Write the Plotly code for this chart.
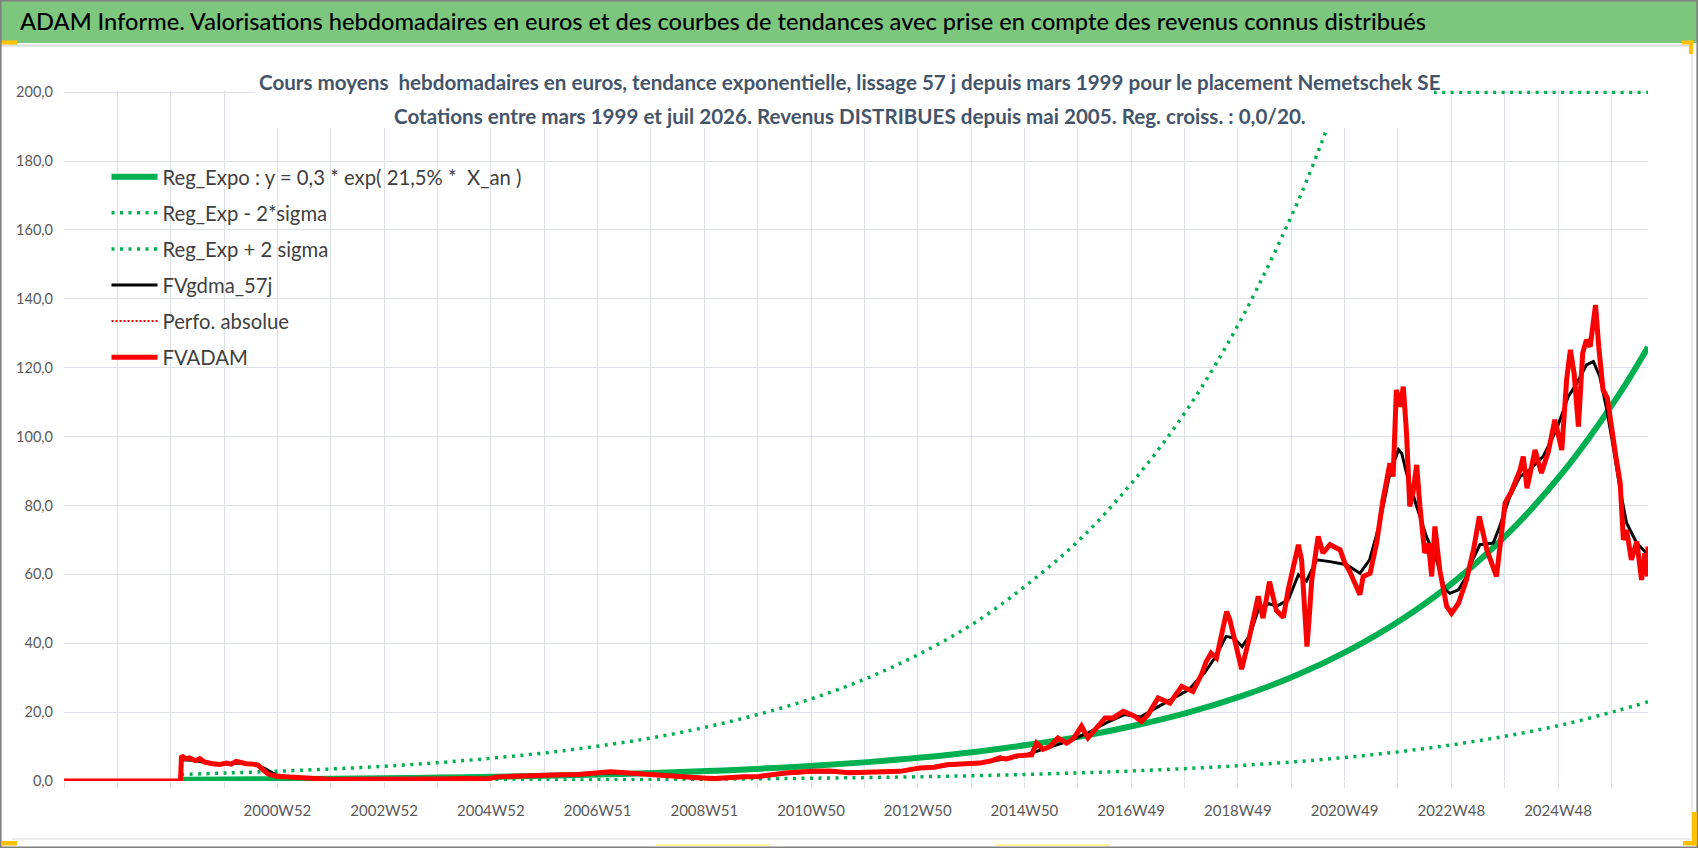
import plotly.graph_objects as go

# values (x = decimal year, y = euros)
reg_t = [1999.18, 2000, 2001, 2002, 2003, 2004, 2005, 2006, 2007, 2008, 2009, 2010,
         2011, 2012, 2013, 2014, 2015, 2016, 2017, 2018, 2019, 2020, 2021, 2022,
         2023, 2024, 2025, 2026, 2026.58]
reg_v = [0.35, 0.42, 0.52, 0.64, 0.79, 0.98, 1.22, 1.51, 1.87, 2.32, 2.88, 3.57,
         4.42, 5.48, 6.8, 8.43, 10.5, 12.95, 16.1, 19.9, 24.7, 30.6, 38.0, 47.1,
         58.4, 72.4, 89.8, 111.3, 126.0]
low_v = [0.06, 0.08, 0.1, 0.12, 0.14, 0.18, 0.22, 0.28, 0.34, 0.42, 0.53, 0.65,
         0.81, 1.0, 1.24, 1.54, 1.92, 2.37, 2.95, 3.64, 4.52, 5.6, 6.95, 8.62,
         10.7, 13.25, 16.4, 20.4, 23.0]

up_t = [1999.18, 2000, 2001, 2002, 2003, 2004, 2005, 2006, 2007, 2008, 2009, 2010,
        2011, 2012, 2013, 2014, 2015, 2016, 2017, 2018, 2019, 2020, 2020.5, 2020.83]
up_v = [1.9, 2.3, 2.85, 3.5, 4.3, 5.35, 6.65, 8.2, 10.2, 12.6, 15.7, 19.5,
        24.1, 29.9, 37.1, 45.9, 57.2, 70.6, 87.7, 108.5, 134.6, 166.8, 186.0, 200.0]
# the +2 sigma curve is held at the top of the scale after it passes 200
cap_t = [2020.83, 2026.58]
cap_v = [200.0, 200.0]

gdma_t = [1996.995, 1999.17, 1999.19, 1999.4, 1999.7, 2000.0, 2000.3, 2000.55, 2000.75,
          2000.95, 2001.2, 2001.6, 2002.0, 2002.5, 2003.0, 2003.5, 2004.0, 2004.5,
          2005.0, 2005.4, 2006.0, 2006.6, 2007.2, 2007.6, 2008.0, 2008.5, 2009.1,
          2009.6, 2010.0, 2010.5, 2011.0, 2011.6, 2012.2, 2012.6, 2013.0, 2013.5,
          2014.1, 2014.5, 2014.9, 2015.2, 2015.5, 2015.8, 2016.1, 2016.5, 2016.8,
          2017.1, 2017.4, 2017.7, 2018.0, 2018.3, 2018.5, 2018.7, 2018.85, 2019.0,
          2019.15, 2019.3, 2019.5, 2019.64, 2019.86, 2020.05, 2020.2, 2020.39, 2020.64,
          2020.95, 2021.2, 2021.38, 2021.57, 2021.76, 2021.92, 2021.98, 2022.07,
          2022.26, 2022.44, 2022.63, 2022.79, 2022.88, 2023.04, 2023.19, 2023.25,
          2023.44, 2023.69, 2023.81, 2024.0, 2024.19, 2024.38, 2024.62, 2024.87,
          2025.09, 2025.25, 2025.43, 2025.56, 2025.68, 2025.81, 2025.93, 2026.06,
          2026.18, 2026.37, 2026.58]
gdma_v = [0, 0, 6.2, 6.0, 5.2, 5.0, 5.2, 4.8, 3.6,
          1.8, 1.2, 0.7, 0.5, 0.5, 0.45, 0.5, 0.55, 0.65,
          0.9, 1.3, 1.6, 1.9, 2.4, 2.3, 1.9, 1.4, 0.9,
          1.1, 1.4, 2.2, 2.7, 2.6, 2.6, 2.8, 3.6, 4.5,
          5.2, 6.3, 7.3, 8.8, 10.3, 11.8, 13.8, 17.2, 19.3,
          18.6, 21.3, 24.0, 26.5, 31.5, 36.0, 42.0, 41.5, 39.0,
          42.5, 49.7, 51.5, 50.7, 52.6, 59.9, 58.0, 64.2, 63.7,
          62.8, 60.3, 64.2, 74.9, 89.4, 96.2, 95.2, 89.4,
          79.7, 71.0, 64.2, 55.5, 54.5, 55.5, 59.4, 62.5,
          68.6, 69.1, 73.9, 82.6, 88.4, 90.5, 94.2, 102.0,
          111.6, 115.5, 120.8, 121.8, 117.4, 107.8, 97.1, 84.5,
          74.9, 69.1, 65.7]

adam_t = [1996.995, 1999.17, 1999.19, 1999.26, 1999.34, 1999.45, 1999.53, 1999.62,
          1999.77, 1999.9, 2000.03, 2000.12, 2000.21, 2000.3, 2000.4, 2000.52, 2000.62,
          2000.71, 2000.81, 2000.96, 2001.21, 2001.52, 2002.0, 2002.5, 2003.0, 2003.5,
          2004.0, 2004.5, 2004.9, 2005.1, 2005.3, 2005.7, 2006.3, 2006.6, 2006.9,
          2007.2, 2007.54, 2007.93, 2008.3, 2008.55, 2008.9, 2009.15, 2009.35, 2009.7,
          2009.97, 2010.3, 2010.47, 2010.98, 2011.3, 2011.66, 2012.0, 2012.3, 2012.61,
          2012.98, 2013.25, 2013.48, 2013.8, 2014.1, 2014.3, 2014.47, 2014.6, 2014.79,
          2015.07, 2015.16, 2015.28, 2015.41, 2015.56, 2015.72, 2015.85, 2016.0,
          2016.12, 2016.3, 2016.44, 2016.59, 2016.78, 2016.99, 2017.12, 2017.24,
          2017.43, 2017.65, 2017.87, 2018.08, 2018.24, 2018.33, 2018.42, 2018.52,
          2018.71, 2018.77, 2018.9, 2018.99, 2019.11, 2019.3, 2019.39, 2019.51,
          2019.64, 2019.77, 2019.86, 2019.95, 2020.05, 2020.11, 2020.17, 2020.21,
          2020.25, 2020.3, 2020.42, 2020.51, 2020.64, 2020.83, 2020.92, 2021.01,
          2021.2, 2021.26, 2021.39, 2021.51, 2021.63, 2021.76, 2021.82, 2021.88,
          2021.95, 2022.01, 2022.07, 2022.13, 2022.19, 2022.26, 2022.32, 2022.41,
          2022.48, 2022.54, 2022.6, 2022.69, 2022.82, 2022.91, 2023.04, 2023.19,
          2023.32, 2023.43, 2023.57, 2023.75, 2023.91, 2024.03, 2024.19, 2024.25,
          2024.32, 2024.47, 2024.59, 2024.72, 2024.84, 2024.97, 2025.06, 2025.13,
          2025.2, 2025.28, 2025.36, 2025.43, 2025.5, 2025.54, 2025.6, 2025.66,
          2025.74, 2025.82, 2025.9, 2025.98, 2026.06, 2026.12, 2026.18, 2026.27,
          2026.37, 2026.46, 2026.52, 2026.57, 2026.58]
adam_v = [0, 0, 7.3, 6.5, 6.7, 5.9, 6.5, 5.5,
          5.0, 4.8, 5.2, 4.9, 5.7, 5.3, 5.0, 4.9, 4.6,
          3.3, 2.0, 1.35, 1.1, 0.6, 0.45, 0.5, 0.4, 0.5,
          0.55, 0.7, 0.6, 1.2, 1.35, 1.5, 1.8, 1.9, 2.2,
          2.7, 2.3, 1.8, 1.5, 1.3, 0.9, 0.7, 1.0, 1.2,
          1.3, 2.0, 2.3, 2.8, 2.9, 2.4, 2.6, 2.7, 2.8,
          3.8, 4.0, 4.7, 4.8, 5.2, 5.8, 6.7, 6.4, 7.3,
          7.6, 11.0, 9.2, 10.0, 12.5, 11.0, 12.3, 15.9,
          12.5, 16.0, 18.3, 18.3, 20.2, 18.8, 17.3, 19.2,
          24.1, 22.6, 27.5, 26.0, 30.9, 34.7, 37.1, 35.7,
          49.2, 46.8, 37.6, 32.5, 40.0, 53.6, 47.3, 57.9,
          49.5, 47.5, 55.5, 62.0, 68.6, 64.2, 50.0, 39.0,
          47.0, 58.4, 71.0, 66.2, 68.6, 67.1, 63.2, 60.8,
          54.1, 59.4, 60.3, 69.0, 81.6, 92.3, 88.4, 113.6,
          108.7, 114.5, 101.0, 79.7, 83.6, 91.8, 79.7, 66.2,
          69.0, 59.4, 73.9, 61.3, 50.7, 48.7, 51.6, 58.4,
          67.1, 76.8, 67.1, 59.4, 80.7, 84.1, 90.3, 94.2,
          85.0, 96.1, 89.4, 95.7, 104.9, 96.1, 116.5, 125.2,
          118.4, 102.9, 124.2, 128.1, 126.1, 131.0, 138.2, 126.1,
          113.6, 111.2, 102.0, 94.2, 86.5, 70.0, 72.9, 64.2,
          69.5, 58.4, 66.1, 59.4, 68.1]

# listed in the legend, nothing drawn
perfo_t = [None]
perfo_v = [None]

week_labels = ['', '', '', '', '2000W52', '', '2002W52', '', '2004W52', '', '2006W51', '',
               '2008W51', '', '2010W50', '', '2012W50', '', '2014W50', '', '2016W49', '',
               '2018W49', '', '2020W49', '', '2022W48', '', '2024W48', '']
y_ticks = [0, 20, 40, 60, 80, 100, 120, 140, 160, 180, 200]
y_labels = ['0,0', '20,0', '40,0', '60,0', '80,0', '100,0', '120,0', '140,0', '160,0',
            '180,0', '200,0']

GREEN = '#00B050'
RED = '#FF0000'
GRID = '#DDE1E7'
FONT = 'Lato'

W, H = 1698, 848
L, R, T, B = 64, 50, 87, 67
PW, PH = W - L - R, H - T - B

def px(x):
    return (x - L) / PW

def py(y):
    return (H - B - y) / PH

# one vertical grid line every 52 weeks, starting at the left edge
x0 = 1996.995
x1 = 2026.58
step = 52 * 7 / 365.25
x_ticks = [x0 + k * step for k in range(len(week_labels))]

fig = go.Figure()
fig.add_trace(go.Scatter(x=reg_t, y=reg_v, mode='lines', legendgroup='a',
                         name='Reg_Expo : y = 0,3 * exp( 21,5% *\u00a0 X_an )',
                         line=dict(color=GREEN, width=6, shape='spline')))
fig.add_trace(go.Scatter(x=reg_t, y=low_v, mode='lines', legendgroup='b',
                         name='Reg_Exp - 2*sigma',
                         line=dict(color=GREEN, width=3.5, dash='3px,5.5px', shape='spline')))
fig.add_trace(go.Scatter(x=up_t, y=up_v, mode='lines', legendgroup='c',
                         name='Reg_Exp + 2 sigma',
                         line=dict(color=GREEN, width=3.5, dash='3px,5.5px', shape='spline')))
fig.add_trace(go.Scatter(x=cap_t, y=cap_v, mode='lines', legendgroup='c', showlegend=False,
                         line=dict(color=GREEN, width=3.5, dash='3px,5.5px')))
fig.add_trace(go.Scatter(x=gdma_t, y=gdma_v, mode='lines', legendgroup='d',
                         name='FVgdma_57j', line=dict(color='black', width=3)))
fig.add_trace(go.Scatter(x=perfo_t, y=perfo_v, mode='lines', legendgroup='e',
                         name='Perfo. absolue',
                         line=dict(color=RED, width=2, dash='2px,2px')))
fig.add_trace(go.Scatter(x=adam_t, y=adam_v, mode='lines', legendgroup='f',
                         name='FVADAM', line=dict(color=RED, width=5)))

shapes = [
    # header band
    dict(type='rect', xref='paper', yref='paper', x0=px(1), x1=px(1697), y0=py(43), y1=py(1),
         fillcolor='#7DC67D', line=dict(width=0), layer='above'),
    dict(type='line', xref='paper', yref='paper', x0=px(1), x1=px(1692), y0=py(45.5), y1=py(45.5),
         line=dict(color='#DADADA', width=2), layer='above'),
    # white box behind the subtitle
    dict(type='rect', xref='paper', yref='paper', x0=px(255), x1=px(1434), y0=py(128), y1=py(58),
         fillcolor='white', line=dict(width=0), layer='above'),
    dict(type='rect', xref='paper', yref='paper', x0=px(58), x1=px(1655), y0=py(90.4), y1=py(84),
         fillcolor='white', line=dict(width=0), layer='above'),
    # frame
    dict(type='line', xref='paper', yref='paper', x0=px(12), x1=px(1692), y0=py(839), y1=py(839),
         line=dict(color='#E3E3E3', width=1.5), layer='above'),
    dict(type='line', xref='paper', yref='paper', x0=px(1692), x1=px(1692), y0=py(839), y1=py(46),
         line=dict(color='#E3E3E3', width=1.5), layer='above'),
    dict(type='rect', xref='paper', yref='paper', x0=px(0.8), x1=px(1697.2), y0=py(847.2), y1=py(0.8),
         line=dict(color='#7F7F7F', width=1.6), layer='above'),
    # selection handles
    dict(type='rect', xref='paper', yref='paper', x0=px(2), x1=px(17), y0=py(44.5), y1=py(40.5),
         fillcolor='#FFC000', line=dict(width=0), layer='above'),
    dict(type='rect', xref='paper', yref='paper', x0=px(1682), x1=px(1693), y0=py(44.5), y1=py(40.5),
         fillcolor='#FFC000', line=dict(width=0), layer='above'),
    dict(type='rect', xref='paper', yref='paper', x0=px(1689), x1=px(1693), y0=py(54), y1=py(40.5),
         fillcolor='#FFC000', line=dict(width=0), layer='above'),
    dict(type='rect', xref='paper', yref='paper', x0=px(2), x1=px(17), y0=py(845.5), y1=py(841),
         fillcolor='#FFC000', line=dict(width=0), layer='above'),
    dict(type='rect', xref='paper', yref='paper', x0=px(1692), x1=px(1697), y0=py(845.5), y1=py(812),
         fillcolor='#FFC000', line=dict(width=0), layer='above'),
    dict(type='rect', xref='paper', yref='paper', x0=px(1683), x1=px(1697), y0=py(845.5), y1=py(841),
         fillcolor='#FFC000', line=dict(width=0), layer='above'),
    dict(type='line', xref='paper', yref='paper', x0=px(656), x1=px(770), y0=py(845), y1=py(845),
         line=dict(color='#FFF59A', width=2), layer='above'),
    dict(type='line', xref='paper', yref='paper', x0=px(996), x1=px(1110), y0=py(845), y1=py(845),
         line=dict(color='#FFF59A', width=2), layer='above'),
]

annotations = [
    dict(xref='paper', yref='paper', x=px(18), y=py(21), xanchor='left', yanchor='middle',
         showarrow=False,
         text='ADAM Informe. Valorisations hebdomadaires en euros et des courbes de tendances '
              'avec prise en compte des revenus connus distribués',
         font=dict(family=FONT, size=23.6, color='black', weight=500)),
    dict(xref='paper', yref='paper', x=px(850), y=py(82), xanchor='center', yanchor='middle',
         showarrow=False,
         text='<b>Cours moyens\u00a0 hebdomadaires en euros, tendance exponentielle, lissage 57 j '
              'depuis mars 1999 pour le placement Nemetschek SE</b>',
         font=dict(family=FONT, size=20.6, color='#44546A')),
    dict(xref='paper', yref='paper', x=px(850), y=py(115.5), xanchor='center', yanchor='middle',
         showarrow=False,
         text='<b>Cotations entre mars 1999 et juil 2026. Revenus DISTRIBUES depuis mai 2005. '
              'Reg. croiss. : 0,0/20.</b>',
         font=dict(family=FONT, size=20.6, color='#44546A')),
]

fig.update_layout(
    width=W, height=H,
    margin=dict(l=L, r=R, t=T, b=B),
    paper_bgcolor='white', plot_bgcolor='white',
    font=dict(family=FONT, color='#595959'),
    shapes=shapes, annotations=annotations,
    showlegend=True,
    legend=dict(x=px(106.5), y=py(157), xanchor='left', yanchor='top',
                bgcolor='rgba(0,0,0,0)', tracegroupgap=6.7, itemwidth=46,
                font=dict(family=FONT, size=20.3, color='#404040')),
    xaxis=dict(range=[x0, x1], tickmode='array', tickvals=x_ticks, ticktext=week_labels,
               showgrid=True, gridcolor=GRID, gridwidth=1, zeroline=False, showline=False,
               ticks='outside', ticklen=6, tickcolor=GRID, ticklabelstandoff=10,
               tickfont=dict(family=FONT, size=15, color='#595959')),
    yaxis=dict(range=[0, 201.5], tickmode='array', tickvals=y_ticks, ticktext=y_labels,
               showgrid=True, gridcolor=GRID, gridwidth=1, zeroline=False, showline=False,
               ticks='', ticklabelstandoff=10,
               tickfont=dict(family=FONT, size=14.5, color='#595959')),
)

# the page keeps the browser's default body margin otherwise
fig.write_html('out.html', config={'displayModeBar': False},
               post_script="document.body.style.margin='0';document.body.style.overflow='hidden';")
